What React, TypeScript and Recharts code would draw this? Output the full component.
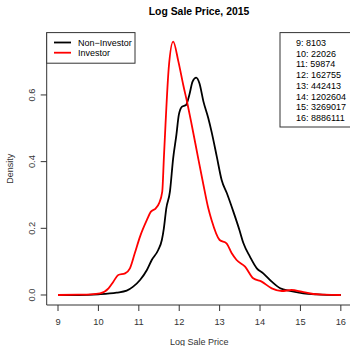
import React from "react";
import { LineChart, Line, XAxis, YAxis } from "recharts";

const xTicks = [9, 10, 11, 12, 13, 14, 15, 16];
const yTicks = [0, 0.2, 0.4, 0.6];

const nonInvestorX = [9.0, 9.5, 10.0, 10.45, 10.7, 10.86, 11.03, 11.2, 11.32, 11.48, 11.57, 11.62, 11.68, 11.77, 11.85, 11.93, 11.99, 12.07, 12.17, 12.25, 12.33, 12.42, 12.5, 12.6, 12.72, 12.8, 12.93, 13.05, 13.18, 13.34, 13.49, 13.59, 13.75, 13.92, 14.08, 14.29, 14.5, 14.74, 15.07, 15.4, 16.0];
const nonInvestorDensity = [0, 0, 0.002, 0.007, 0.013, 0.025, 0.045, 0.075, 0.105, 0.135, 0.165, 0.2, 0.26, 0.31, 0.41, 0.48, 0.54, 0.565, 0.57, 0.6, 0.64, 0.652, 0.635, 0.58, 0.53, 0.49, 0.415, 0.345, 0.305, 0.25, 0.195, 0.155, 0.115, 0.08, 0.065, 0.04, 0.02, 0.012, 0.005, 0.002, 0];

const investorX = [9.0, 9.5, 9.8, 10.04, 10.25, 10.37, 10.49, 10.66, 10.78, 10.9, 11.03, 11.2, 11.3, 11.42, 11.5, 11.58, 11.62, 11.66, 11.74, 11.85, 11.98, 12.1, 12.21, 12.31, 12.47, 12.6, 12.72, 12.8, 13.0, 13.17, 13.3, 13.42, 13.63, 13.83, 14.04, 14.29, 14.54, 14.78, 15.03, 15.32, 15.6, 16.0];
const investorDensity = [0, 0.001, 0.002, 0.005, 0.02, 0.04, 0.06, 0.065, 0.08, 0.125, 0.175, 0.225, 0.25, 0.26, 0.275, 0.31, 0.41, 0.51, 0.68, 0.76, 0.7, 0.63, 0.57, 0.51, 0.41, 0.33, 0.26, 0.225, 0.165, 0.155, 0.125, 0.105, 0.085, 0.05, 0.04, 0.02, 0.012, 0.015, 0.01, 0.003, 0.001, 0];

const seriesNames = ["Non\u2212Investor", "Investor"];
const seriesColors = ["#000000", "#ff0000"];

const priceLevels = [9, 10, 11, 12, 13, 14, 15, 16];
const priceValues = [8103, 22026, 59874, 162755, 442413, 1202604, 3269017, 8886111];

const nonInvestorData = nonInvestorX.map((x, i) => ({ x, d: nonInvestorDensity[i] }));
const investorData = investorX.map((x, i) => ({ x, d: investorDensity[i] }));

const FONT = "'Liberation Sans', Arial, sans-serif";
const AX = "#333";

const XTick = (props: any) => {
  const { x, y, payload } = props;
  return (
    <text x={x} y={y} dy={11.5} textAnchor="middle" fontSize={9.3} fontFamily={FONT} fill="#333">
      {payload.value}
    </text>
  );
};

const YTick = (props: any) => {
  const { x, y, payload } = props;
  const bx = x - 3.5;
  return (
    <text x={bx} y={y} textAnchor="middle" fontSize={9.3} fontFamily={FONT} fill="#333" transform={`rotate(-90 ${bx} ${y})`}>
      {Number(payload.value).toFixed(1)}
    </text>
  );
};

const XLabel = (props: any) => {
  const vb = props.viewBox;
  const cx = vb.x + vb.width / 2 + 1;
  return (
    <text x={cx} y={vb.y + 40} textAnchor="middle" fontSize={9} fontFamily={FONT} fill="#333">
      Log Sale Price
    </text>
  );
};

const YLabel = (props: any) => {
  const vb = props.viewBox;
  const cy = vb.y + vb.height / 2;
  const bx = 13.5;
  return (
    <text x={bx} y={cy} textAnchor="middle" fontSize={9} fontFamily={FONT} fill="#333" transform={`rotate(-90 ${bx} ${cy})`}>
      Density
    </text>
  );
};

export default function App() {
  return (
    <div style={{ position: "absolute", left: 0, top: 0, width: 350, height: 346, background: "#fff" }}>
      <LineChart width={350} height={346} margin={{ top: 32.6, right: 0, bottom: 0, left: 0 }}>
        <XAxis
          type="number"
          dataKey="x"
          domain={[8.72, 16.227]}
          ticks={xTicks}
          interval={0}
          allowDataOverflow
          height={41}
          tickSize={6}
          tickMargin={2}
          axisLine={{ stroke: AX }}
          tickLine={{ stroke: AX }}
          tick={<XTick />}
          label={<XLabel />}
        />
        <XAxis
          xAxisId="top"
          orientation="top"
          type="number"
          domain={[8.72, 16.227]}
          height={0}
          tick={false}
          tickLine={false}
          axisLine={{ stroke: AX }}
        />
        <YAxis
          type="number"
          domain={[-0.03, 0.787]}
          ticks={yTicks}
          interval={0}
          allowDataOverflow
          width={46.7}
          tickSize={6}
          tickMargin={2}
          axisLine={{ stroke: AX }}
          tickLine={{ stroke: AX }}
          tick={<YTick />}
          label={<YLabel />}
        />
        <Line data={nonInvestorData} dataKey="d" type="monotone" stroke={seriesColors[0]} strokeWidth={1.8} dot={false} isAnimationActive={false} />
        <Line data={investorData} dataKey="d" type="monotone" stroke={seriesColors[1]} strokeWidth={1.8} dot={false} isAnimationActive={false} />
      </LineChart>
      <svg width={350} height={346} style={{ position: "absolute", left: 0, top: 0, pointerEvents: "none" }}>
        <text x={199} y={15} textAnchor="middle" fontSize={10.4} fontWeight="bold" fontFamily={FONT} fill="#000">
          Log Sale Price, 2015
        </text>
        <rect x={46.7} y={32.6} width={88.3} height={30.6} fill="#fff" stroke={AX} strokeWidth={1} />
        {seriesNames.map((n, i) => (
          <g key={n}>
            <line x1={54} x2={71} y1={42.5 + i * 10.2} y2={42.5 + i * 10.2} stroke={seriesColors[i]} strokeWidth={1.8} />
            <text x={78} y={45.7 + i * 10.2} fontSize={9} fontFamily={FONT} fill="#000">{n}</text>
          </g>
        ))}
        <rect x={280} y={32.6} width={80} height={94.4} fill="#fff" stroke={AX} strokeWidth={1} />
        {priceLevels.map((p, i) => (
          <text key={p} x={296} y={46 + i * 10.7} fontSize={9} fontFamily={FONT} fill="#000">
            {`${p}: ${priceValues[i]}`}
          </text>
        ))}
      </svg>
    </div>
  );
}
